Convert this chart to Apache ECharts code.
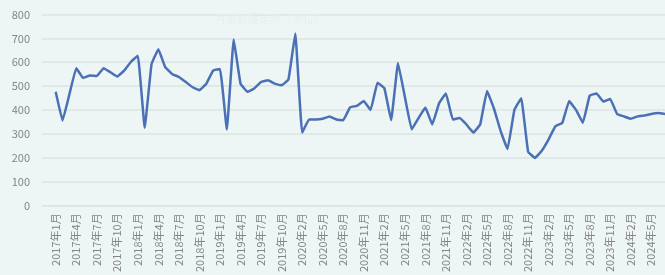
<!DOCTYPE html>
<html>
<head>
<meta charset="utf-8">
<script src="https://cdn.jsdelivr.net/npm/echarts@6/dist/echarts.min.js"></script>
<style>
  html, body { margin: 0; padding: 0; background: #eef5f5; }
  #chart { width: 665px; height: 275px; }
</style>
</head>
<body>
<div id="chart"></div>
<script>
// months: 2017-01 .. 2019-12, then 2020-02 .. 2024-07 (Jan 2020 merged into Feb)
const months = [];
for (let y = 2017; y <= 2024; y++) {
  for (let m = 1; m <= 12; m++) {
    if (y === 2020 && m === 1) continue;
    if (y === 2024 && m > 7) continue;
    months.push(y + "年" + m + "月");
  }
}

const values = [
  476, 355, 465, 575, 534, 544, 542, 575, 558, 540, 565, 602,
  627, 325, 592, 654, 579, 551, 538, 517, 495, 483, 510, 565,
  572, 318, 695, 510, 476, 490, 517, 524, 510, 503, 528, 720,
  305, 360, 360, 363, 373, 360, 357, 411, 417, 437, 400,
  514, 492, 357, 597, 455, 318, 366, 410, 339, 428, 469, 360,
  366, 339, 305, 339, 479, 407, 311, 236, 400, 449, 225, 199,
  229, 277, 332, 346, 437, 400, 346, 460, 469, 435, 446, 383,
  373, 363, 373, 377, 383, 387, 383
];

const yTicks = [0, 100, 200, 300, 400, 500, 600, 700, 800];

// two empty slots at the start so the plot area begins left of the first month
const pad = 2;
const categories = new Array(pad).fill("").concat(months);
const seriesData = new Array(pad).fill(null).concat(values);

const chart = echarts.init(document.getElementById("chart"));
const option = {
  backgroundColor: "#eef5f5",
  textStyle: { fontFamily: "Noto Sans CJK SC, sans-serif" },
  animation: false,
  title: {
    text: "月度数据走势（单位）",
    left: 210,
    top: 8,
    textStyle: { fontSize: 11, color: "#e6eeee", fontWeight: "normal" }
  },
  grid: { left: 42, right: 0, top: 14.5, bottom: 66 },
  xAxis: {
    type: "category",
    data: categories,
    boundaryGap: false,
    axisLine: { show: true, lineStyle: { color: "#dbe3e3" } },
    axisTick: { show: false },
    axisLabel: {
      rotate: 90,
      color: "#858585",
      fontSize: 11,
      margin: 8,
      interval: function (idx) {
        return idx >= pad && (idx - pad) % 3 === 0;
      }
    },
    splitLine: { show: false }
  },
  yAxis: {
    type: "value",
    min: yTicks[0],
    max: yTicks[yTicks.length - 1],
    interval: 100,
    axisLine: { show: false },
    axisTick: { show: false },
    axisLabel: { color: "#858585", fontSize: 11, margin: 12 },
    splitLine: { lineStyle: { color: "#dbe3e3", width: 1.5 } }
  },
  series: [
    {
      type: "line",
      data: seriesData,
      smooth: 0.08,
      symbol: "none",
      lineStyle: { color: "#4a70b5", width: 2.5 }
    }
  ]
};
chart.setOption(option);
</script>
</body>
</html>
